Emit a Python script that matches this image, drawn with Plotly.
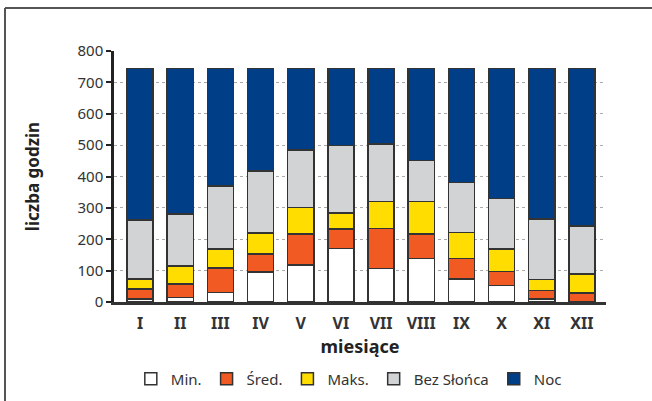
import plotly.graph_objects as go

months = ["I", "II", "III", "IV", "V", "VI", "VII", "VIII", "IX", "X", "XI", "XII"]
min_h = [10, 15, 30, 96, 118, 171, 106, 139, 73, 52, 10, 0]
sred_h = [31, 43, 78, 57, 98, 61, 129, 77, 66, 46, 26, 28]
maks_h = [33, 57, 61, 67, 85, 51, 85, 104, 82, 71, 35, 61]
bez_h = [187, 166, 201, 198, 183, 216, 183, 131, 160, 161, 194, 153]
noc_h = [483, 463, 374, 326, 260, 245, 241, 293, 363, 414, 479, 502]

series = [
    ("Min.", min_h, "#FFFFFF"),
    ("Śred.", sred_h, "#F15A22"),
    ("Maks.", maks_h, "#FFDD00"),
    ("Bez Słońca", bez_h, "#D1D3D4"),
    ("Noc", noc_h, "#003F87"),
]

FONT = "Noto Sans"
fig = go.Figure()
for name, vals, col in series:
    fig.add_trace(go.Bar(
        x=list(range(len(months))), y=vals, name=name,
        marker=dict(color=col, line=dict(color="#333333", width=1.5)),
        width=0.65,
    ))

# frame around the figure (left and top edges visible)
fx0 = (5 - 114) / 492
fy1 = (302.5 - 8) / 251.5
frame = [
    dict(type="line", xref="paper", yref="paper", x0=fx0, x1=fx0, y0=-0.6, y1=fy1,
         line=dict(color="#555555", width=2)),
    dict(type="line", xref="paper", yref="paper", x0=fx0, x1=1.3, y0=fy1, y1=fy1,
         line=dict(color="#555555", width=2)),
]

fig.update_layout(
    barmode="stack",
    width=652, height=401,
    margin=dict(l=114, r=46, t=51, b=98.5, autoexpand=False),
    paper_bgcolor="white", plot_bgcolor="white",
    font=dict(family=FONT, color="#333333", size=15),
    showlegend=True,
    legend=dict(orientation="h", xref="container", yref="container",
                x=0.535, xanchor="center", y=(401 - 379) / 401, yanchor="middle",
                font=dict(size=15, color="#333333"), traceorder="normal",
                itemwidth=30, tracegroupgap=0),
    xaxis=dict(
        range=[-0.65, 11.6], automargin=False,
        tickmode="array", tickvals=list(range(len(months))), ticktext=[f"<b>{m}</b>" for m in months],
        tickfont=dict(size=16, color="#333333"),
        showline=True, linecolor="#333333", linewidth=2.5,
        ticks="outside", ticklen=5, tickcolor="rgba(0,0,0,0)", showgrid=False, zeroline=False,
        title=dict(text="<b>miesiące</b>", font=dict(size=18, color="#222222"), standoff=6),
    ),
    yaxis=dict(
        range=[0, 800], dtick=100, tick0=0, automargin=False,
        tickfont=dict(size=15, color="#333333"),
        showline=True, linecolor="#222222", linewidth=2.5,
        ticks="outside", ticklen=5, tickwidth=2, tickcolor="#222222",
        showgrid=True, gridcolor="#AAAAAA", griddash="dot", gridwidth=1,
        zeroline=False,
        title=dict(text="<b>liczba godzin</b>", font=dict(size=17, color="#222222"), standoff=34),
    ),
    shapes=frame,
)

fig.write_html("out.html", config={"displayModeBar": False},
               post_script="document.body.style.margin='0';")
